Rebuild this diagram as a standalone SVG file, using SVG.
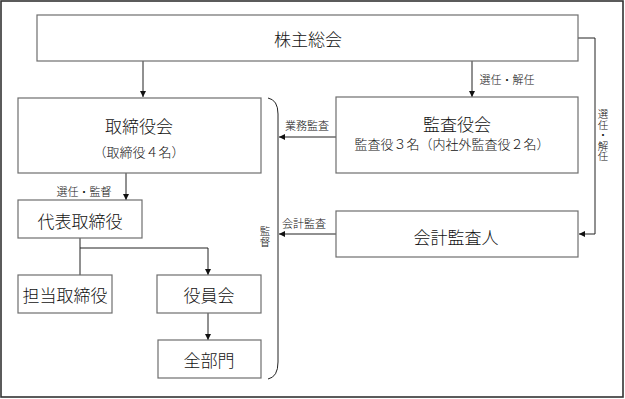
<svg xmlns="http://www.w3.org/2000/svg" width="625" height="399" viewBox="0 0 625 399">
<style>
.box{fill:#fff;stroke:#6e6e6e;stroke-width:1.2}
.ln{fill:none;stroke:#222;stroke-width:1}
.f{font-family:"Noto Sans CJK JP","Noto Sans CJK SC",sans-serif;font-weight:300;fill:#111}
.t{text-anchor:middle;dominant-baseline:central}
.big{font-size:17px}
.mid{font-size:13px}
.sm{font-size:11px}
.v{font-size:10.5px;writing-mode:vertical-rl;text-orientation:upright;text-anchor:start}
</style>
<defs>
<marker id="ah" markerUnits="userSpaceOnUse" markerWidth="7" markerHeight="7" refX="6" refY="3" orient="auto">
<path d="M0,0 L6,3 L0,6 z" fill="#111"/>
</marker>
</defs>
<rect x="1" y="1" width="622" height="396" fill="#fff" stroke="#333" stroke-width="1.6"/>
<g id="connectors">
<path class="ln" d="M143,61 V97" marker-end="url(#ah)"/>
<path class="ln" d="M472,61 V97" marker-end="url(#ah)"/>
<path class="ln" d="M578,38 H595 V234 H579" marker-end="url(#ah)"/>
<path class="ln" d="M126,173 V200" marker-end="url(#ah)"/>
<path class="ln" d="M80,238 V275"/>
<path class="ln" d="M80,248 H208 V275" marker-end="url(#ah)"/>
<path class="ln" d="M208,313 V340" marker-end="url(#ah)"/>
<path class="ln" d="M336,137 H279" marker-end="url(#ah)"/>
<path class="ln" d="M336,234 H279" marker-end="url(#ah)"/>
<path class="ln" d="M268,98 Q278,100 278,114 L278,362 Q278,377 268,379"/>
<text class="f t sm" x="507" y="79">選任・解任</text>
<text class="f t sm" x="84" y="191">選任・監督</text>
<text class="f t sm" x="307" y="125">業務監査</text>
<text class="f t sm" x="304" y="223">会計監査</text>
<text class="f v" x="603" y="109" writing-mode="vertical-rl">選任・解任</text>
<text class="f v" x="265" y="226" writing-mode="vertical-rl">監督</text>
</g>
<g id="shareholders">
<rect class="box" x="37" y="15" width="541" height="46"/>
<text class="f t big" x="308" y="38">株主総会</text>
</g>
<g id="board">
<rect class="box" x="18" y="98" width="243" height="75"/>
<text class="f t big" x="139" y="125">取締役会</text>
<text class="f t mid" x="139" y="151">（取締役４名）</text>
</g>
<g id="auditors">
<rect class="box" x="336" y="97" width="242" height="76"/>
<text class="f t big" x="457" y="123">監査役会</text>
<text class="f t mid" x="452" y="143">監査役３名（内社外監査役２名）</text>
</g>
<g id="accounting-auditor">
<rect class="box" x="336" y="211" width="242" height="46"/>
<text class="f t big" x="456" y="236">会計監査人</text>
</g>
<g id="representative">
<rect class="box" x="18" y="200" width="124" height="38"/>
<text class="f t big" x="80" y="220">代表取締役</text>
</g>
<g id="directors">
<rect class="box" x="18" y="275" width="94" height="38"/>
<text class="f t big" x="65" y="294">担当取締役</text>
</g>
<g id="officers">
<rect class="box" x="157" y="275" width="104" height="38"/>
<text class="f t big" x="209" y="294">役員会</text>
</g>
<g id="departments">
<rect class="box" x="158" y="340" width="103" height="38"/>
<text class="f t big" x="209" y="359">全部門</text>
</g>
</svg>
